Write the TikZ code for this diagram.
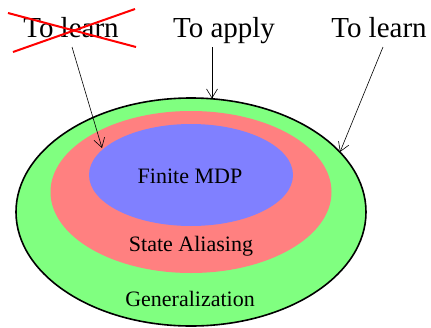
\documentclass[tikz,border=0pt]{standalone}
\usepackage{fontspec}
\setmainfont{Liberation Serif}
\usetikzlibrary{shapes.geometric,arrows.meta}
\definecolor{gfill}{HTML}{80FF80}
\definecolor{rfill}{HTML}{FF8080}
\definecolor{bfill}{HTML}{8080FF}
\tikzset{
  region/.style={ellipse, inner sep=0pt, outer sep=0pt},
  toplabel/.style={font=\fontsize{29}{32}\selectfont, anchor=base, inner sep=0pt},
  inlabel/.style={font=\fontsize{22}{25}\selectfont, anchor=base, inner sep=0pt},
  pointer/.style={line width=0.6pt, -{Straight Barb[length=9pt,width=11pt]}},
  cross/.style={red, line width=2pt}
}
\begin{document}
\begin{tikzpicture}[x=1pt,y=-1pt]
\useasboundingbox (0,0) rectangle (431,327);
\node[region, fill=gfill, draw=black, line width=1.6pt, minimum width=350pt, minimum height=228pt] (outer) at (191,212) {};
\node[region, fill=rfill, minimum width=281pt, minimum height=162pt] (mid) at (191,192) {};
\node[region, fill=bfill, minimum width=204pt, minimum height=102pt] (inner) at (191,175) {};
\node[inlabel] (fmdp) at (190,183.3) {Finite MDP};
\node[inlabel] (sa) at (191,251.7) {State Aliasing};
\node[inlabel] (gen) at (190,306.7) {Generalization};
\node[toplabel] (tl1) at (71,37.7) {To learn};
\node[toplabel] (ta) at (224,37.7) {To apply};
\node[toplabel] (tl2) at (379,37.7) {To learn};
\coordinate (c1a) at (8,13);
\coordinate (c1b) at (136,47);
\coordinate (c2a) at (13,52);
\coordinate (c2b) at (135,9);
\draw[cross] (c1a) -- (c1b);
\draw[cross] (c2a) -- (c2b);
\coordinate (s1) at (72,47);
\coordinate (e1) at (102,148);
\coordinate (s2) at (212,47);
\coordinate (e2) at (212,98.5);
\coordinate (s3) at (383,47);
\coordinate (e3) at (340,152);
\draw[pointer] (s1) -- (e1);
\draw[pointer] (s2) -- (e2);
\draw[pointer] (s3) -- (e3);
\end{tikzpicture}
\end{document}
